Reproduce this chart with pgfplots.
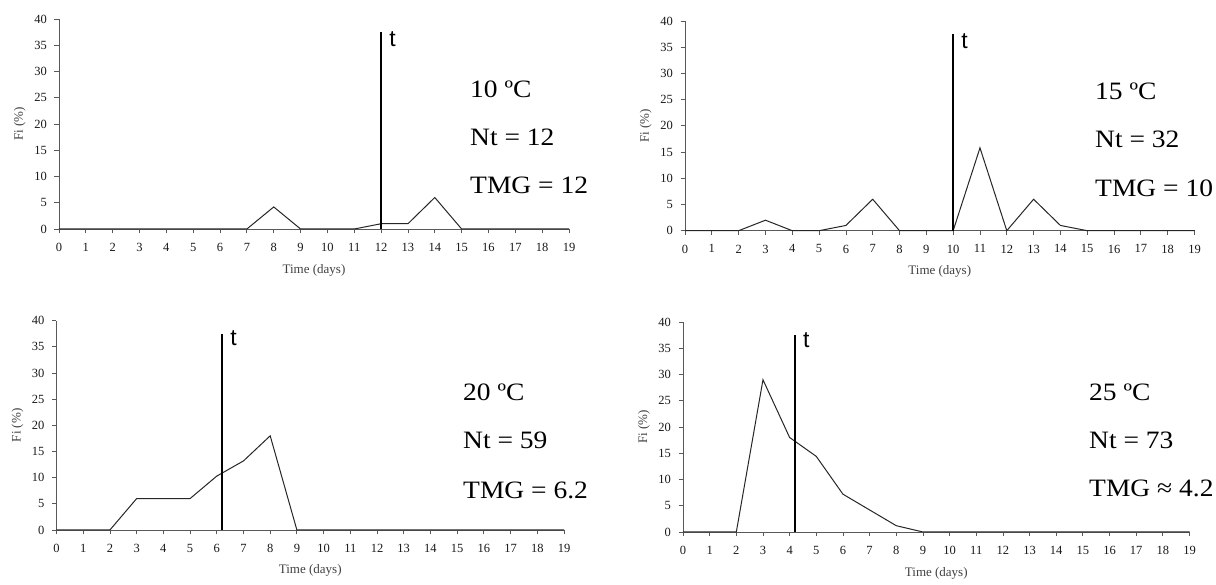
\documentclass[border=0pt]{standalone}
\usepackage{fontspec}
\setmainfont{Liberation Serif}
\newfontfamily\tfont{Liberation Sans}
\usepackage{pgfplots}
\pgfplotsset{compat=1.18}

\pgfplotsset{
  panel/.style={
    scale only axis,
    xmin=0, xmax=19, ymin=0, ymax=40,
    xtick={0,...,19}, ytick={0,5,...,40},
    axis lines=left,
    x axis line style={-, black!65, line width=0.9pt},
    y axis line style={-, black!65, line width=0.9pt},
    tick align=outside,
    major tick length=4.5pt,
    tick style={black!65, line width=0.8pt},
    /pgf/number format/assume math mode=true,
    ticklabel style={font=\fontsize{12.5}{13}\selectfont, text=black!90},
    xticklabel style={yshift=-6pt},
    yticklabel style={xshift=-4pt},
    xlabel={Time (days)},
    ylabel={Fi (\%)},
    label style={font=\fontsize{13}{14}\selectfont, text=black!75},
    xlabel style={at={(axis description cs:0.5,-0.195)}, anchor=center},
    ylabel style={at={(axis description cs:-0.077,0.5)}, anchor=center},
    clip=false,
  },
  dataline/.style={black!85, line width=1pt, mark=none},
  tline/.style={black, line width=2.4pt, mark=none},
}
\tikzset{info/.style={font=\fontsize{25}{27}\selectfont, anchor=base west, inner sep=0pt, xscale=1.1}}
\newcommand{\tlabel}[2]{\node[font=\tfont\fontsize{23}{25}\selectfont, anchor=base west, inner sep=0pt] at (axis cs:#1,#2) {t};}
\newcommand{\infotext}[6]{%
  \node[info] at (#1pt,#2pt) {#4};
  \node[info] at (#1pt,#2pt-48pt) {#5};
  \node[info] at (#1pt,#2pt-#3pt) {#6};}

\begin{document}
\begin{tikzpicture}[x=1pt,y=1pt]
\path[use as bounding box] (0,0) rectangle (1216,585);

% 10 C
\begin{axis}[panel, at={(59pt,356pt)}, anchor=south west, width=510pt, height=210pt]
\addplot[dataline] coordinates {
  (0,0) (1,0) (2,0) (3,0) (4,0) (5,0) (6,0) (7,0) (8,4.2) (9,0)
  (10,0) (11,0) (12,1) (13,1) (14,6) (15,0) (16,0) (17,0) (18,0) (19,0)
};
\addplot[tline] coordinates {(12,0) (12,37.5)};
\tlabel{12.3}{34.7}
\end{axis}
\infotext{470}{487}{96}{10 ºC}{Nt = 12}{TMG = 12}

% 15 C
\begin{axis}[panel, at={(685pt,354.3pt)}, anchor=south west, width=509.5pt, height=209.7pt]
\addplot[dataline] coordinates {
  (0,0) (1,0) (2,0) (3,2) (4,0) (5,0) (6,1) (7,6) (8,0) (9,0)
  (10,0) (11,15.8) (12,0) (13,6) (14,1) (15,0) (16,0) (17,0) (18,0) (19,0)
};
\addplot[tline] coordinates {(10,0) (10,37.5)};
\tlabel{10.3}{34.7}
\end{axis}
\infotext{1095}{485}{97}{15 ºC}{Nt = 32}{TMG = 10}

% 20 C
\begin{axis}[panel, at={(56.5pt,55pt)}, anchor=south west, width=507.5pt, height=209.3pt]
\addplot[dataline] coordinates {
  (0,0) (1,0) (2,0) (3,6) (4,6) (5,6) (6,10.3) (7,13.2) (8,18) (9,0)
  (10,0) (11,0) (12,0) (13,0) (14,0) (15,0) (16,0) (17,0) (18,0) (19,0)
};
\addplot[tline] coordinates {(6.2,0) (6.2,37.5)};
\tlabel{6.5}{35.2}
\end{axis}
\infotext{463}{184}{98}{20 ºC}{Nt = 59}{TMG = 6.2}

% 25 C
\begin{axis}[panel, at={(683pt,53pt)}, anchor=south west, width=506.5pt, height=210pt]
\addplot[dataline] coordinates {
  (0,0) (1,0) (2,0) (3,29) (4,18) (5,14.4) (6,7.2) (7,4.2) (8,1.2) (9,0)
  (10,0) (11,0) (12,0) (13,0) (14,0) (15,0) (16,0) (17,0) (18,0) (19,0)
};
\addplot[tline] coordinates {(4.2,0) (4.2,37.5)};
\tlabel{4.5}{35.2}
\end{axis}
\infotext{1089}{184}{96}{25 ºC}{Nt = 73}{TMG ≈ 4.2}

\end{tikzpicture}
\end{document}
